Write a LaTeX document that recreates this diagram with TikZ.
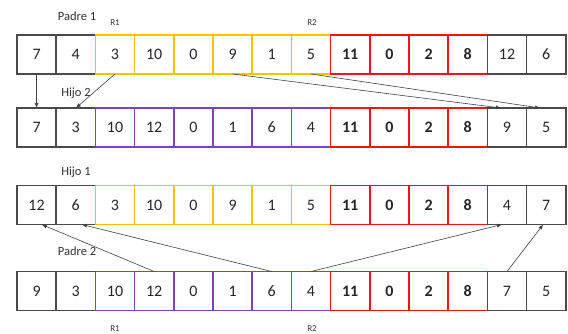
\documentclass[tikz,border=0pt]{standalone}
\usepackage{fontspec}
\setmainfont{Carlito}
\usepackage{tikz}
\usetikzlibrary{arrows.meta,positioning}
\definecolor{grisgen}{HTML}{4A4A4A}
\definecolor{amarillo}{HTML}{FFC000}
\definecolor{morado}{HTML}{7A45B8}
\definecolor{rojo}{HTML}{FF1010}

\begin{document}
\begin{tikzpicture}[x=1pt, y=-1pt, >=Latex,
  gen/.style={draw, line width=1.6pt, minimum width=39.2pt, minimum height=39pt,
    inner sep=0pt, outer sep=0pt, text=black!85, font=\fontsize{16}{18}\selectfont},
  cgris/.style={gen, draw=grisgen},
  camar/.style={gen, draw=amarillo},
  cmora/.style={gen, draw=morado},
  crojo/.style={gen, draw=rojo, font=\fontsize{16}{18}\selectfont\bfseries},
  lbl/.style={text=black!80, font=\fontsize{12.5}{14}\selectfont},
  corte/.style={text=black!80, font=\fontsize{9}{10}\selectfont},
  flecha/.style={->, draw=black!75, line width=0.6pt, >={Latex[length=5pt,width=4pt]}}]
  \useasboundingbox (0,0) rectangle (568,334);
  % padre 1
  \foreach \i/\v/\c in {0/7/cgris,1/4/cgris,2/3/camar,3/10/camar,4/0/camar,5/9/camar,6/1/camar,7/5/camar,
                        8/11/crojo,9/0/crojo,10/2/crojo,11/8/crojo,12/12/cgris,13/6/cgris}
    \node[\c] (p1-\i) at (36.6+39.2*\i, 54.5) {\v};
  % hijo 2
  \foreach \i/\v/\c in {0/7/cgris,1/3/cgris,2/10/cmora,3/12/cmora,4/0/cmora,5/1/cmora,6/6/cmora,7/4/cmora,
                        8/11/crojo,9/0/crojo,10/2/crojo,11/8/crojo,12/9/cgris,13/5/cgris}
    \node[\c] (h2-\i) at (36.6+39.2*\i, 127.5) {\v};
  % hijo 1
  \foreach \i/\v/\c in {0/12/cgris,1/6/cgris,2/3/camar,3/10/camar,4/0/camar,5/9/camar,6/1/camar,7/5/camar,
                        8/11/crojo,9/0/crojo,10/2/crojo,11/8/crojo,12/4/cgris,13/7/cgris}
    \node[\c] (h1-\i) at (36.6+39.2*\i, 205) {\v};
  % padre 2
  \foreach \i/\v/\c in {0/9/cgris,1/3/cgris,2/10/cmora,3/12/cmora,4/0/cmora,5/1/cmora,6/6/cmora,7/4/cmora,
                        8/11/crojo,9/0/crojo,10/2/crojo,11/8/crojo,12/7/cgris,13/5/cgris}
    \node[\c] (p2-\i) at (36.6+39.2*\i, 291) {\v};

  \node[lbl]   (padre1) at (77,16)   {Padre 1};
  \node[lbl]   (hijo2)  at (76,93)   {Hijo 2};
  \node[lbl]   (hijo1)  at (76,172)  {Hijo 1};
  \node[lbl]   (padre2) at (77,251)  {Padre 2};
  \node[corte] (r1a)    at (115,23)  {R1};
  \node[corte] (r2a)    at (312,23)  {R2};
  \node[corte] (r1b)    at (115,329) {R1};
  \node[corte] (r2b)    at (312,329) {R2};

  \draw[flecha] (p1-0.south) -- (h2-0.north);
  \draw[flecha] (p1-2.south) -- (h2-1.north);
  \draw[flecha] (p1-5.south) -- ([xshift=-6pt]h2-12.north);
  \draw[flecha] (p1-7.south) -- ([xshift=-6pt]h2-13.north);
  \draw[flecha] (p2-3.north) -- ([xshift=5pt]h1-0.south);
  \draw[flecha] (p2-6.north) -- ([xshift=6pt]h1-1.south);
  \draw[flecha] (p2-7.north) -- ([xshift=-5pt]h1-12.south);
  \draw[flecha] (p2-12.north) -- ([xshift=-3pt]h1-13.south);
\end{tikzpicture}
\end{document}
